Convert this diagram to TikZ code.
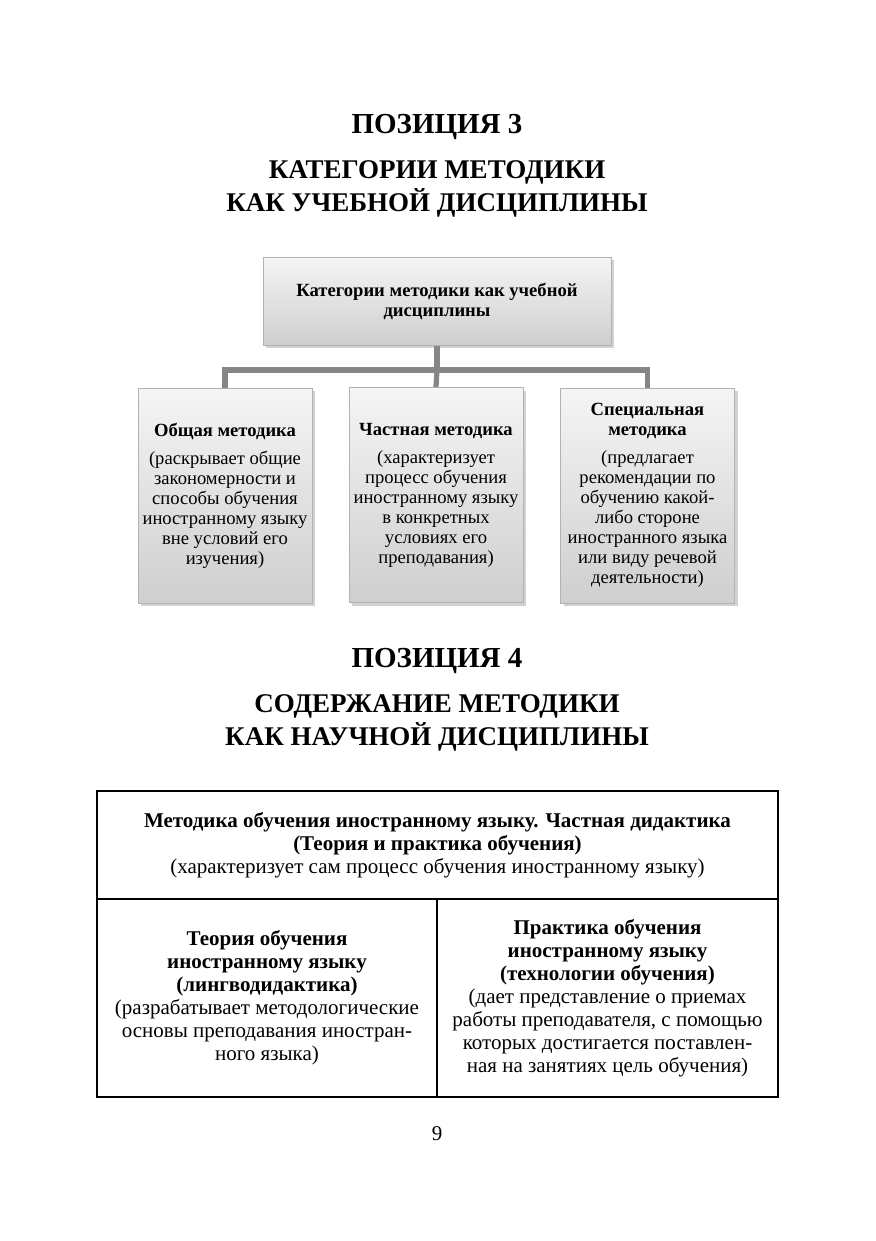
\documentclass[tikz,border=0pt]{standalone}
\usepackage{fontspec}
\setmainfont{Liberation Serif}
\usetikzlibrary{shadows}
\begin{document}
\begin{tikzpicture}[x=0.5pt,y=-0.5pt,
  ttl/.style={font=\bfseries\fontsize{14.5}{16}\selectfont, inner sep=0pt},
  subttl/.style={font=\bfseries\fontsize{13.5}{16.5}\selectfont, align=center, inner sep=0pt},
  gbox/.style={draw=gray!60, line width=0.5pt, top color=gray!8, bottom color=gray!38,
    drop shadow={shadow xshift=1.5pt, shadow yshift=-1.5pt, opacity=0.35, fill=gray},
    align=center, inner sep=0.5pt},
  smallbox/.style={gbox, minimum width=87pt, minimum height=107.5pt,
    font=\fontsize{9.3}{10}\selectfont},
  conn/.style={draw=gray!95, line width=2.6pt},
  cell/.style={draw=black, line width=0.7pt, align=center, inner sep=1pt,
    font=\fontsize{10.5}{11.5}\selectfont}
]
\useasboundingbox[fill=white] (0,0) rectangle (875,1241);

% Titles
\node[ttl] (t3) at (437,127) {ПОЗИЦИЯ 3};
\node[subttl] (s3) at (437,189) {КАТЕГОРИИ МЕТОДИКИ\\КАК УЧЕБНОЙ ДИСЦИПЛИНЫ};

% Top diagram
\node[gbox, minimum width=174pt, minimum height=44pt, font=\bfseries\fontsize{9.3}{10}\selectfont] (top) at (437,301)
  {Категории методики как учебной\\дисциплины};
\node[smallbox] (b1) at (225,495.5)
  {\textbf{Общая методика}\\[4pt]
   (раскрывает общие\\закономерности и\\способы обучения\\иностранному языку\\вне условий его\\изучения)};
\node[smallbox] (b2) at (436,495)
  {\textbf{Частная методика}\\[4pt]
   (характеризует\\процесс обучения\\иностранному языку\\в конкретных\\условиях его\\преподавания)};
\node[smallbox] (b3) at (647.5,495.5)
  {\textbf{Специальная}\\\textbf{методика}\\[4pt]
   (предлагает\\рекомендации по\\обучению какой-\\либо стороне\\иностранного языка\\или виду речевой\\деятельности)};

\coordinate (j) at (437,370);
\draw[conn] (top.south) -- (j);
\draw[conn] (b1.north) |- (j) -| (b3.north);
\draw[conn] (j) -- (b2.north);

% Position 4
\node[ttl] (t4) at (437,661) {ПОЗИЦИЯ 4};
\node[subttl] (s4) at (437,723) {СОДЕРЖАНИЕ МЕТОДИКИ\\КАК НАУЧНОЙ ДИСЦИПЛИНЫ};

% Table
\node[cell, minimum width=340.5pt, minimum height=54pt] (c0) at (437.5,845)
  {\textbf{Методика обучения иностранному языку. Частная дидактика}\\
   \textbf{(Теория и практика обучения)}\\
   (характеризует сам процесс обучения иностранному языку)};
\node[cell, minimum width=170pt, minimum height=99pt] (c1) at (267,998)
  {\textbf{Теория обучения}\\\textbf{иностранному языку}\\\textbf{(лингводидактика)}\\
   (разрабатывает методологические\\основы преподавания иностран-\\ного языка)};
\node[cell, minimum width=170.5pt, minimum height=99pt] (c2) at (607.5,998)
  {\textbf{Практика обучения}\\\textbf{иностранному языку}\\\textbf{(технологии обучения)}\\
   (дает представление о приемах\\работы преподавателя, с помощью\\которых достигается поставлен-\\ная на занятиях цель обучения)};

% Page number
\node[font=\fontsize{10.5}{12}\selectfont, inner sep=0pt] (pn) at (437,1134) {9};
\end{tikzpicture}
\end{document}
